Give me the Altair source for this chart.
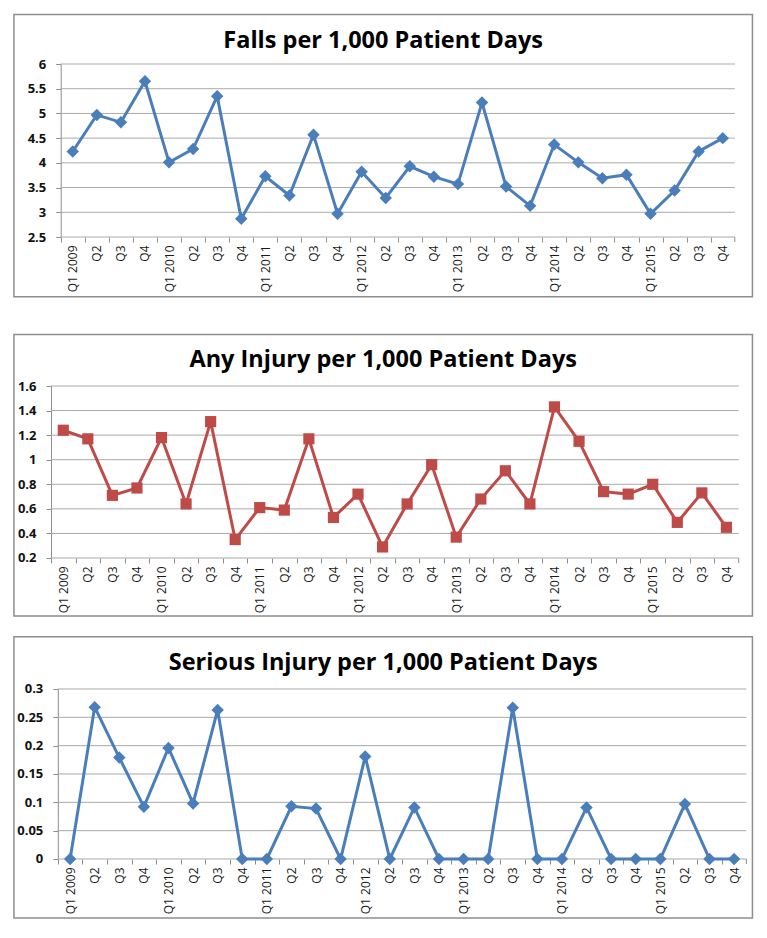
import altair as alt
import pandas as pd

years = [2009, 2010, 2011, 2012, 2013, 2014, 2015]
quarters = ["Q1", "Q2", "Q3", "Q4"]
periods = [f"{q} {y}" for y in years for q in quarters]

falls = [4.23, 4.97, 4.82, 5.65, 4.01, 4.28, 5.35, 2.87,
         3.73, 3.34, 4.57, 2.97, 3.82, 3.29, 3.93, 3.72,
         3.57, 5.22, 3.52, 3.13, 4.37, 4.01, 3.69, 3.76,
         2.97, 3.44, 4.23, 4.50]
any_injury = [1.24, 1.17, 0.71, 0.77, 1.18, 0.64, 1.31, 0.35,
              0.61, 0.59, 1.17, 0.53, 0.72, 0.29, 0.64, 0.96,
              0.37, 0.68, 0.91, 0.64, 1.43, 1.15, 0.74, 0.72,
              0.80, 0.49, 0.73, 0.45]
serious_injury = [0.0, 0.268, 0.179, 0.092, 0.196, 0.098, 0.263, 0.0,
                  0.0, 0.093, 0.089, 0.0, 0.181, 0.0, 0.091, 0.0,
                  0.0, 0.0, 0.267, 0.0, 0.0, 0.091, 0.0, 0.0,
                  0.0, 0.097, 0.0, 0.0]

titles = ["Falls per 1,000 Patient Days",
          "Any Injury per 1,000 Patient Days",
          "Serious  Injury per 1,000 Patient Days"]
falls_ticks = [2.5, 3, 3.5, 4, 4.5, 5, 5.5, 6]
any_ticks = [0.2, 0.4, 0.6, 0.8, 1.0, 1.2, 1.4, 1.6]
serious_ticks = [0, 0.05, 0.1, 0.15, 0.2, 0.25, 0.3]

BLUE = "#4a7ebb"
RED = "#be4b48"
FONT = "Open Sans"
FRAME = "#8e8e8e"
GRID = "#a9a9a9"

VIEW_W = 695.4
BOX = (-37.05, 701.45)


def panel(values, ticks, title, color, shape, size, span, height, box_y, title_y, extra_bottom):
    a, b = span
    step = (b - a) / len(periods)
    df = pd.DataFrame({"period": periods, "value": values})
    x = alt.X(
        "period:N", sort=periods, title=None,
        scale=alt.Scale(type="point", padding=0.5, range=[a, b]),
        axis=alt.Axis(
            labelAngle=-90, grid=False, domain=False,
            labelExpr="indexof(datum.value, 'Q1') == 0 ? datum.value : substring(datum.value, 0, 2)",
            labelFont=FONT, labelFontSize=12, labelColor="#1a1a1a", labelPadding=3,
            tickColor=FRAME, tickSize=5, labelOverlap=False,
            tickOffset=-step / 2, labelOffset=step / 2,
        ),
    )
    y = alt.Y(
        "value:Q", title=None,
        scale=alt.Scale(domain=[ticks[0], ticks[-1]], nice=False, zero=False),
        axis=alt.Axis(
            values=ticks, format="~g", grid=False, offset=-a,
            labelFont=FONT, labelFontSize=13, labelFontWeight="bold", labelColor="#111111",
            labelPadding=10, domainColor=FRAME, tickColor=FRAME, tickSize=5,
        ),
    )
    one = pd.DataFrame({"t": [title]})
    grid = alt.Chart(pd.DataFrame({"value": ticks})).mark_rule(
        color=GRID, strokeWidth=1
    ).encode(y=y, x=alt.value(a), x2=alt.value(b))
    frame = alt.Chart(one).mark_rect(
        fillOpacity=0, stroke=FRAME, strokeWidth=1.5
    ).encode(
        x=alt.value(BOX[0]), x2=alt.value(BOX[1]),
        y=alt.value(box_y[0]), y2=alt.value(box_y[1]),
    )
    end_tick = alt.Chart(one).mark_rule(color=FRAME, strokeWidth=1).encode(
        x=alt.value(b), y=alt.value(height), y2=alt.value(height + 5),
    )
    spacer = alt.Chart(one).mark_rect(
        fillOpacity=0, strokeOpacity=0
    ).encode(
        x=alt.value(BOX[0]), x2=alt.value(BOX[0] + 5),
        y=alt.value(box_y[1]), y2=alt.value(box_y[1] + extra_bottom),
    )
    head = alt.Chart(one).mark_text(
        font=FONT, fontSize=23.5, fontWeight="bold", color="#000000",
        align="center", baseline="middle",
    ).encode(
        text="t:N",
        x=alt.value((BOX[0] + BOX[1]) / 2),
        y=alt.value(title_y),
    )
    line = alt.Chart(df).mark_line(color=color, strokeWidth=3).encode(x=x, y=y)
    pts = alt.Chart(df).mark_point(
        shape=shape, filled=True, size=size, color=color, opacity=1
    ).encode(x=x, y=y)
    layers = [grid, frame, end_tick, line, pts, head]
    if extra_bottom > 0:
        layers.append(spacer)
    return alt.layer(*layers).properties(width=VIEW_W, height=height)


p1 = panel(falls, falls_ticks, titles[0], BLUE, "diamond", 155,
           (9.7, 683.8), 173, (-49.45, 232.8), -23.2, 16.6)
p2 = panel(any_injury, any_ticks, titles[1], RED, "square", 125,
           (0.0, 687.7), 172, (-51.4, 230.0), -26.0, 0)
p3 = panel(serious_injury, serious_ticks, titles[2], BLUE, "diamond", 155,
           (6.8, 695.4), 170, (-52.25, 229.0), -26.0, 0)

chart = alt.vconcat(p1, p2, p3, spacing=19).configure_view(stroke=None)

chart.save("out.html", embed_options={"renderer": "svg", "actions": False})
